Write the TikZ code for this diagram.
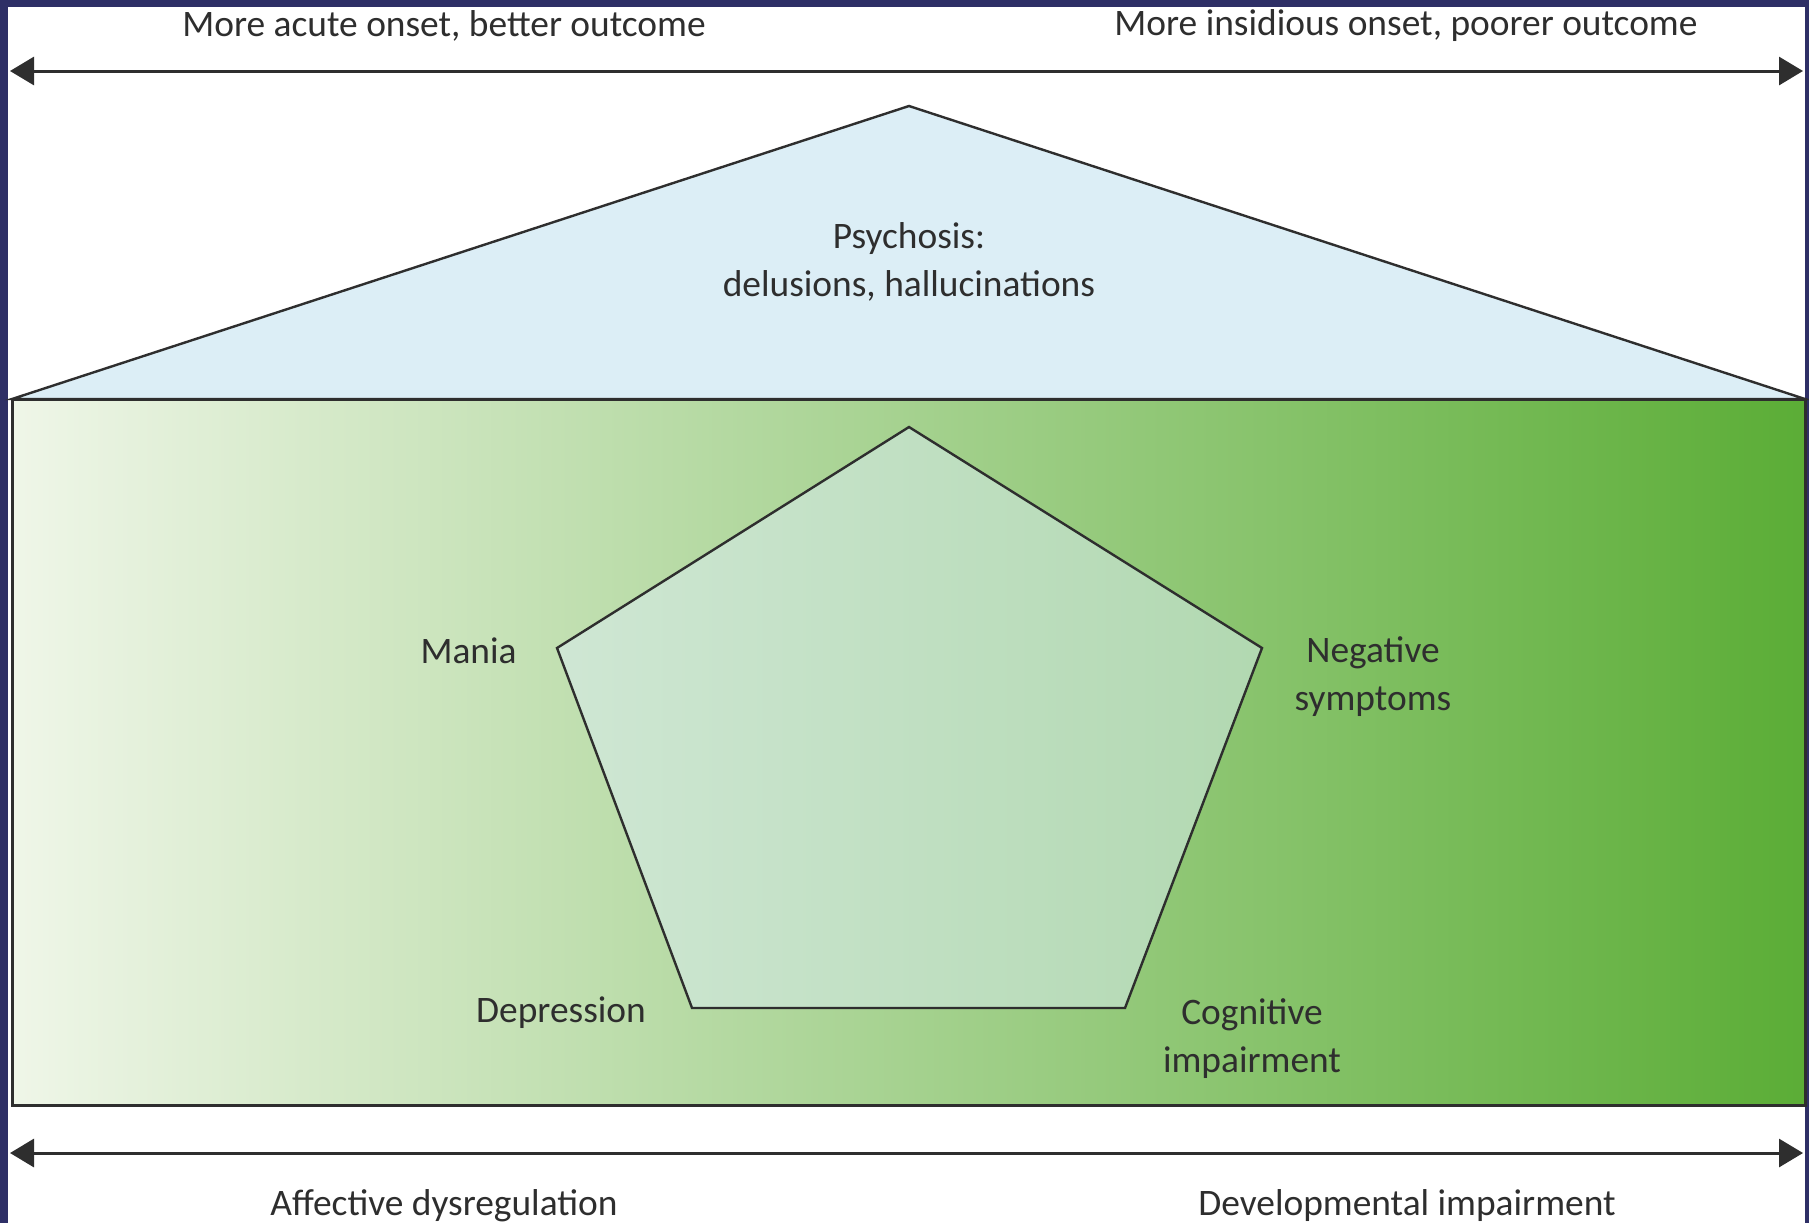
\documentclass[tikz,border=0pt]{standalone}
\usepackage{fontspec}
\setmainfont{Carlito}
\usetikzlibrary{positioning}
\usetikzlibrary{arrows.meta}
\definecolor{navy}{HTML}{2E2F66}
\definecolor{skyfill}{HTML}{DCEEF6}
\definecolor{palegreen}{HTML}{EFF6E8}
\definecolor{midgreen}{HTML}{BCDB98}
\definecolor{deepgreen}{HTML}{5BAD36}
\definecolor{ink}{HTML}{2E2E2E}
\tikzset{
  axis/.style={line width=1.5pt, draw=ink, {Triangle[length=12pt,width=14pt]}-{Triangle[length=12pt,width=14pt]}},
  label/.style={font=\fontsize{18.7}{24}\selectfont, text=ink, align=center, inner sep=0pt},
}
\begin{document}
\begin{tikzpicture}[x=0.5pt,y=-0.5pt]
		%% frame and white page
		\fill[navy] (0,0) rectangle (1809,1223);
		\fill[white] (8,7) rectangle (1805,1223);
		\useasboundingbox (0,0) rectangle (1809,1223);
		%% the roof: psychosis
		\coordinate (apex) at (909,106);
		\coordinate (roofL) at (12,399);
		\coordinate (roofR) at (1805,399);
		\filldraw[fill=skyfill, draw=ink, line width=1.2pt] (roofL) -- (apex) -- (roofR) -- cycle;
		\node[label] (psy) at (909,262) {Psychosis:\\delusions, hallucinations};
		%% the body with its green shading
		\coordinate (boxB) at (1805,1105);
		\shade[left color=palegreen, middle color=midgreen, right color=deepgreen] (roofL) rectangle (boxB);
		\draw[line width=1.5pt, draw=ink] (roofL) rectangle (boxB);
		%% the pentagon
		\coordinate (pTop) at (909,427);
		\coordinate (pRight) at (1262,648);
		\coordinate (pBR) at (1125,1008);
		\coordinate (pBL) at (692,1008);
		\coordinate (pLeft) at (557,648);
		\filldraw[fill=skyfill, fill opacity=.5, draw=ink, line width=1.2pt] (pTop) -- (pRight) -- (pBR) -- (pBL) -- (pLeft) -- cycle;
		\node[label, anchor=east] (mania) at (517,651) {Mania};
		\node[label] (neg) at (1373,677) {Negative\\symptoms};
		\node[label] (dep) at (561,1013) {Depression};
		\node[label] (cog) at (1252,1039) {Cognitive\\impairment};
		%% the two axes
		\coordinate (topL) at (10,71);
		\coordinate (topR) at (1803,71);
		\draw[axis] (topL) -- (topR);
		\node[label] (acute) at (444,26) {More acute onset, better outcome};
		\node[label] (insid) at (1406,26) {More insidious onset, poorer outcome};
		\coordinate (botL) at (10,1153);
		\coordinate (botR) at (1803,1153);
		\draw[axis] (botL) -- (botR);
		\node[label] (aff) at (444,1206) {Affective dysregulation};
		\node[label] (dev) at (1407,1206) {Developmental impairment};
	\end{tikzpicture}
\end{document}
